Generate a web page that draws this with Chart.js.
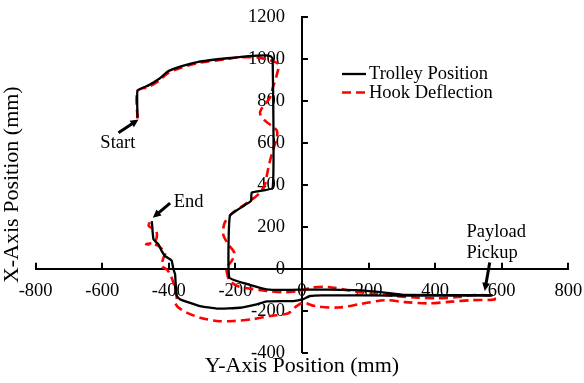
<!DOCTYPE html>
<html>
<head>
<meta charset="utf-8">
<script src="https://cdn.jsdelivr.net/npm/chart.js@4.4.1/dist/chart.umd.min.js"></script>
<style>
    body { margin: 0; background: #fff; }
    #wrap { width: 584px; height: 383px; }
</style>
</head>
<body>
<div id="wrap"><canvas id="my-chart"></canvas></div>
<script>
// * Trolley path vs hook deflection, both in mm

// trolley position (x = Y-axis position, y = X-axis position)
const trolleyX = [-494, -494, -461, -431, -401, -361, -311, -231, -161, -111,
    -94, -88, -88, -151, -153, -216, -218, -146, -106, -56,
    -6, 79, 180, 249, 309, 570, 570, 300, 60, 24,
    4, -26, -106, -136, -186, -256, -306, -366, -376, -378,
    -381, -386, -391, -396, -411, -421, -431, -446, -451]
const trolleyY = [719, 849, 873, 902, 941, 965, 985, 1001, 1012, 1016,
    1012, 1000, 385, 362, 322, 254, -43, -82, -98, -101,
    -100, -100, -103, -114, -125, -126, -128, -128, -127, -130,
    -145, -154, -156, -170, -186, -190, -178, -146, -130, -106,
    -27, -3, 37, 45, 60, 84, 116, 140, 227]

// hook deflection
const hookX = [-494, -494, -461, -431, -401, -361, -311, -231, -191, -131,
    -91, -71, -76, -88, -96, -126, -111, -76, -76, -88,
    -98, -106, -111, -131, -171, -211, -233, -236, -221, -203,
    -211, -226, -224, -216, -190, -156, -106, -56, -6, 29,
    79, 139, 209, 279, 349, 409, 469, 519, 569, 579,
    509, 449, 379, 309, 249, 179, 109, 39, 4, -16,
    -41, -96, -146, -206, -256, -306, -346, -371, -381, -376,
    -386, -396, -406, -421, -416, -411, -436, -468, -445, -436,
    -438, -461, -455]
const hookY = [715, 845, 866, 893, 933, 958, 980, 997, 1006, 1005,
    990, 973, 920, 860, 815, 745, 705, 660, 620, 560,
    500, 440, 402, 354, 307, 262, 215, 160, 115, 75,
    37, 5, -30, -60, -85, -95, -106, -112, -106, -90,
    -87, -103, -119, -130, -138, -141, -135, -125, -130, -146,
    -150, -157, -165, -159, -150, -167, -185, -178, -162, -178,
    -212, -225, -240, -249, -249, -233, -209, -185, -160, -135,
    -67, -27, -3, 13, 52, 76, 112, 116, 125, 150,
    180, 205, 225]

const seriesNames = ['Trolley Position', 'Hook Deflection']
const xTickValues = [-800, -600, -400, -200, 0, 200, 400, 600, 800]
const yTickValues = [-400, -200, 0, 200, 400, 600, 800, 1000, 1200]
const xTitle = 'Y-Axis Position (mm)'
const yTitle = 'X-Axis Position (mm)'

// callouts, in data units: [label, textX, textY, tailX, tailY, tipX, tipY]
const notes = [
    ['Start', -553, 598, -551, 647, -491, 711],
    ['End', -385, 316, -396, 312, -448, 243],
    ['Payload\nPickup', 494, 175, 564, 29, 549, -106]
]

const serif = '"Liberation Serif", "Times New Roman", serif'
const ctx = document.getElementById('my-chart')

function toPoints(xs, ys) {
    return xs.map((v, i) => ({ x: v, y: ys[i] }))
}

function drawArrow(c, x1, y1, x2, y2) {
    const ang = Math.atan2(y2 - y1, x2 - x1)
    const head = 9
    c.save()
    c.strokeStyle = '#000'
    c.fillStyle = '#000'
    c.lineWidth = 3
    c.beginPath()
    c.moveTo(x1, y1)
    c.lineTo(x2 - Math.cos(ang) * head * 0.8, y2 - Math.sin(ang) * head * 0.8)
    c.stroke()
    c.beginPath()
    c.moveTo(x2, y2)
    c.lineTo(x2 - head * Math.cos(ang - 0.45), y2 - head * Math.sin(ang - 0.45))
    c.lineTo(x2 - head * Math.cos(ang + 0.45), y2 - head * Math.sin(ang + 0.45))
    c.closePath()
    c.fill()
    c.restore()
}

// axis titles, outside tick marks, legend and callouts
const overlay = {
    id: 'overlay',
    afterDraw(chart) {
        const c = chart.ctx
        const area = chart.chartArea
        const sx = chart.scales.x
        const sy = chart.scales.y
        const x0 = sx.getPixelForValue(0)
        const y0 = sy.getPixelForValue(0)

        c.save()
        c.strokeStyle = '#000'
        c.lineWidth = 2
        c.beginPath()
        xTickValues.forEach((v) => {
            const px = Math.round(sx.getPixelForValue(v))
            c.moveTo(px, y0)
            c.lineTo(px, y0 - 6)
        })
        yTickValues.forEach((v) => {
            const py = Math.round(sy.getPixelForValue(v))
            c.moveTo(x0, py)
            c.lineTo(x0 + 6, py)
        })
        c.stroke()

        c.fillStyle = '#000'
        c.font = '22px ' + serif
        c.textAlign = 'center'
        c.textBaseline = 'middle'
        c.fillText(xTitle, (area.left + area.right) / 2, area.bottom + 14)
        c.save()
        c.translate(area.left - 23, (area.top + area.bottom) / 2)
        c.rotate(-Math.PI / 2)
        c.fillText(yTitle, 0, 0)
        c.restore()

        // legend
        c.font = '18.5px ' + serif
        c.textAlign = 'left'
        chart.data.datasets.forEach((ds, i) => {
            const ly = 74 + i * 19.5
            c.save()
            c.strokeStyle = ds.borderColor
            c.lineWidth = ds.borderWidth
            c.setLineDash(ds.borderDash || [])
            c.beginPath()
            c.moveTo(342, ly - 1 * i)
            c.lineTo(366, ly - 1 * i)
            c.stroke()
            c.restore()
            c.fillText(ds.label, 369, ly)
        })

        // callouts
        notes.forEach(([label, tx, ty, ax, ay, bx, by]) => {
            const lines = label.split('\n')
            c.textAlign = lines.length > 1 || label === 'End' ? 'left' : 'center'
            lines.forEach((s, k) => {
                c.fillText(s, sx.getPixelForValue(tx), sy.getPixelForValue(ty) + k * 21)
            })
            drawArrow(c, sx.getPixelForValue(ax), sy.getPixelForValue(ay),
                sx.getPixelForValue(bx), sy.getPixelForValue(by))
        })
        c.restore()
    }
}

// invisible tick marks only push the labels away from the axis line
const hiddenGrid = (len) => ({
    display: true,
    drawOnChartArea: false,
    drawTicks: true,
    tickLength: len,
    color: 'rgba(0,0,0,0)'
})

new Chart(ctx, {
    type: 'scatter',
    data: {
        datasets: [
            {
                label: seriesNames[0],
                data: toPoints(trolleyX, trolleyY),
                showLine: true,
                borderColor: '#000000',
                borderWidth: 2.3,
                pointRadius: 0,
                tension: 0.1
            },
            {
                label: seriesNames[1],
                data: toPoints(hookX, hookY),
                showLine: true,
                borderColor: '#ff0000',
                borderWidth: 2.6,
                borderDash: [9, 5],
                pointRadius: 0,
                tension: 0.3
            }
        ]
    },
    options: {
        responsive: true,
        maintainAspectRatio: false,
        animation: false,
        layout: {
            padding: { left: 35.6, right: 15.7, top: 16.7, bottom: 30.3 }
        },
        plugins: {
            legend: { display: false },
            tooltip: { enabled: false }
        },
        scales: {
            x: {
                type: 'linear',
                min: -800,
                max: 800,
                position: { y: 0 },
                afterBuildTicks: (s) => { s.ticks = xTickValues.map((v) => ({ value: v })) },
                grid: hiddenGrid(11),
                border: { display: true, color: '#000', width: 2 },
                ticks: {
                    color: '#000',
                    padding: 0,
                    maxRotation: 0,
                    autoSkip: false,
                    callback: (v) => String(v),
                    font: { family: serif, size: 18.5 }
                }
            },
            y: {
                type: 'linear',
                min: -400,
                max: 1200,
                position: 'center',
                afterBuildTicks: (s) => { s.ticks = yTickValues.map((v) => ({ value: v })) },
                grid: hiddenGrid(17),
                border: { display: true, color: '#000', width: 2 },
                ticks: {
                    color: '#000',
                    padding: 0,
                    autoSkip: false,
                    callback: (v) => String(v),
                    font: { family: serif, size: 18.5 }
                }
            }
        }
    },
    plugins: [overlay]
})
</script>
</body>
</html>
